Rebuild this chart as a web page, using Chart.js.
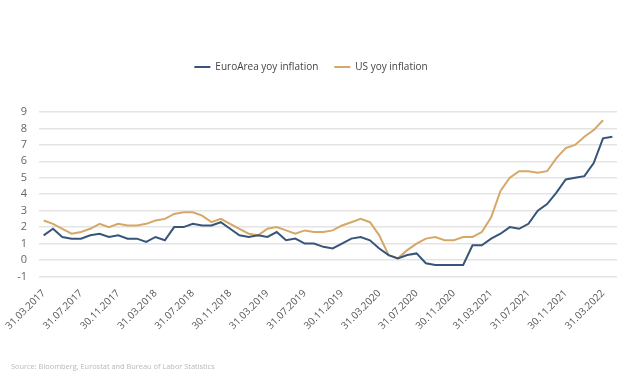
<!DOCTYPE html>
<html>
<head>
<meta charset="utf-8">
<title>EuroArea vs US yoy inflation</title>
<script src="https://cdn.jsdelivr.net/npm/chart.js@4/dist/chart.umd.min.js"></script>
<style>
  html, body { margin: 0; padding: 0; background: #fff; }
  #wrap { position: relative; width: 640px; height: 380px; }
  #source {
    position: absolute; left: 11px; top: 361px;
    font-family: "Open Sans", sans-serif; font-size: 7.4px; color: #b8b8b8;
  }
</style>
</head>
<body>
<div id="wrap">
  <canvas id="myChart" width="640" height="380"></canvas>
  <div id="source">Source: Bloomberg, Eurostat and Bureau of Labor Statistics</div>
</div>

<script type="text/javascript">
// month-end dates, Mar 2017 .. Apr 2022
const DATES = [
  '31.03.2017','30.04.2017','31.05.2017','30.06.2017','31.07.2017','31.08.2017','30.09.2017','31.10.2017','30.11.2017','31.12.2017',
  '31.01.2018','28.02.2018','31.03.2018','30.04.2018','31.05.2018','30.06.2018','31.07.2018','31.08.2018','30.09.2018','31.10.2018','30.11.2018','31.12.2018',
  '31.01.2019','28.02.2019','31.03.2019','30.04.2019','31.05.2019','30.06.2019','31.07.2019','31.08.2019','30.09.2019','31.10.2019','30.11.2019','31.12.2019',
  '31.01.2020','29.02.2020','31.03.2020','30.04.2020','31.05.2020','30.06.2020','31.07.2020','31.08.2020','30.09.2020','31.10.2020','30.11.2020','31.12.2020',
  '31.01.2021','28.02.2021','31.03.2021','30.04.2021','31.05.2021','30.06.2021','31.07.2021','31.08.2021','30.09.2021','31.10.2021','30.11.2021','31.12.2021',
  '31.01.2022','28.02.2022','31.03.2022','30.04.2022'
];

const EURO_AREA = [
  1.5, 1.9, 1.4, 1.3, 1.3, 1.5, 1.6, 1.4, 1.5, 1.3,
  1.3, 1.1, 1.4, 1.2, 2.0, 2.0, 2.2, 2.1, 2.1, 2.3, 1.9, 1.5,
  1.4, 1.5, 1.4, 1.7, 1.2, 1.3, 1.0, 1.0, 0.8, 0.7, 1.0, 1.3,
  1.4, 1.2, 0.7, 0.3, 0.1, 0.3, 0.4, -0.2, -0.3, -0.3, -0.3, -0.3,
  0.9, 0.9, 1.3, 1.6, 2.0, 1.9, 2.2, 3.0, 3.4, 4.1, 4.9, 5.0,
  5.1, 5.9, 7.4, 7.5
];

const US = [
  2.4, 2.2, 1.9, 1.6, 1.7, 1.9, 2.2, 2.0, 2.2, 2.1,
  2.1, 2.2, 2.4, 2.5, 2.8, 2.9, 2.9, 2.7, 2.3, 2.5, 2.2, 1.9,
  1.6, 1.5, 1.9, 2.0, 1.8, 1.6, 1.8, 1.7, 1.7, 1.8, 2.1, 2.3,
  2.5, 2.3, 1.5, 0.3, 0.1, 0.6, 1.0, 1.3, 1.4, 1.2, 1.2, 1.4,
  1.4, 1.7, 2.6, 4.2, 5.0, 5.4, 5.4, 5.3, 5.4, 6.2, 6.8, 7.0,
  7.5, 7.9, 8.5, null
];

const Y_MIN = -1;
const Y_MAX = 9;
const LABEL_EVERY = 4;

const BLUE = '#37557a';
const GOLD = '#d5a867';

Chart.defaults.font.family = '"Open Sans", sans-serif';

// leave more room between legend and plot, nudge legend a bit left
const legendGap = {
  id: 'legendGap',
  beforeInit(chart) {
    const fit = chart.legend.fit;
    chart.legend.fit = function() {
      fit.bind(chart.legend)();
      this.height += 30;
    };
  },
  afterLayout(chart) {
    chart.legend.left -= 5;
    chart.legend.right -= 5;
  }
};

const ctx = document.getElementById('myChart');
const myChart = new Chart(ctx, {
  type: 'line',
  data: {
    labels: DATES,
    datasets: [
      {
        label: 'EuroArea yoy inflation',
        data: EURO_AREA,
        borderColor: BLUE,
        backgroundColor: BLUE,
        borderWidth: 2,
        pointRadius: 0,
        tension: 0
      },
      {
        label: 'US yoy inflation',
        data: US,
        borderColor: GOLD,
        backgroundColor: GOLD,
        borderWidth: 2,
        pointRadius: 0,
        tension: 0
      }
    ]
  },
  options: {
    responsive: false,
    animation: false,
    layout: { padding: { top: 46, left: 15, right: 23, bottom: 45 } },
    plugins: {
      legend: {
        position: 'top',
        labels: {
          usePointStyle: true,
          pointStyle: 'line',
          pointStyleWidth: 16,
          boxHeight: 2,
          color: '#444',
          font: { size: 10 },
          padding: 16
        }
      },
      tooltip: { enabled: false }
    },
    scales: {
      x: {
        offset: true,
        grid: { display: false },
        border: { display: false },
        afterFit(scale) {
          // rotated labels may spill left past the plot, like the original
          scale.paddingLeft = 0;
          scale.paddingRight = 0;
        },
        ticks: {
          autoSkip: false,
          maxRotation: 45,
          minRotation: 45,
          color: '#555',
          font: { size: 10 },
          callback: function(val, i) {
            return i % LABEL_EVERY === 0 ? this.getLabelForValue(val) : null;
          }
        }
      },
      y: {
        min: Y_MIN,
        max: Y_MAX,
        border: { display: false },
        grid: { color: '#e4e4e4', lineWidth: 1.5, drawTicks: false },
        afterFit(scale) {
          scale.width = 24;
        },
        ticks: {
          stepSize: 1,
          color: '#666',
          font: { size: 11 },
          padding: 12
        }
      }
    }
  },
  plugins: [legendGap]
});
</script>
</body>
</html>
